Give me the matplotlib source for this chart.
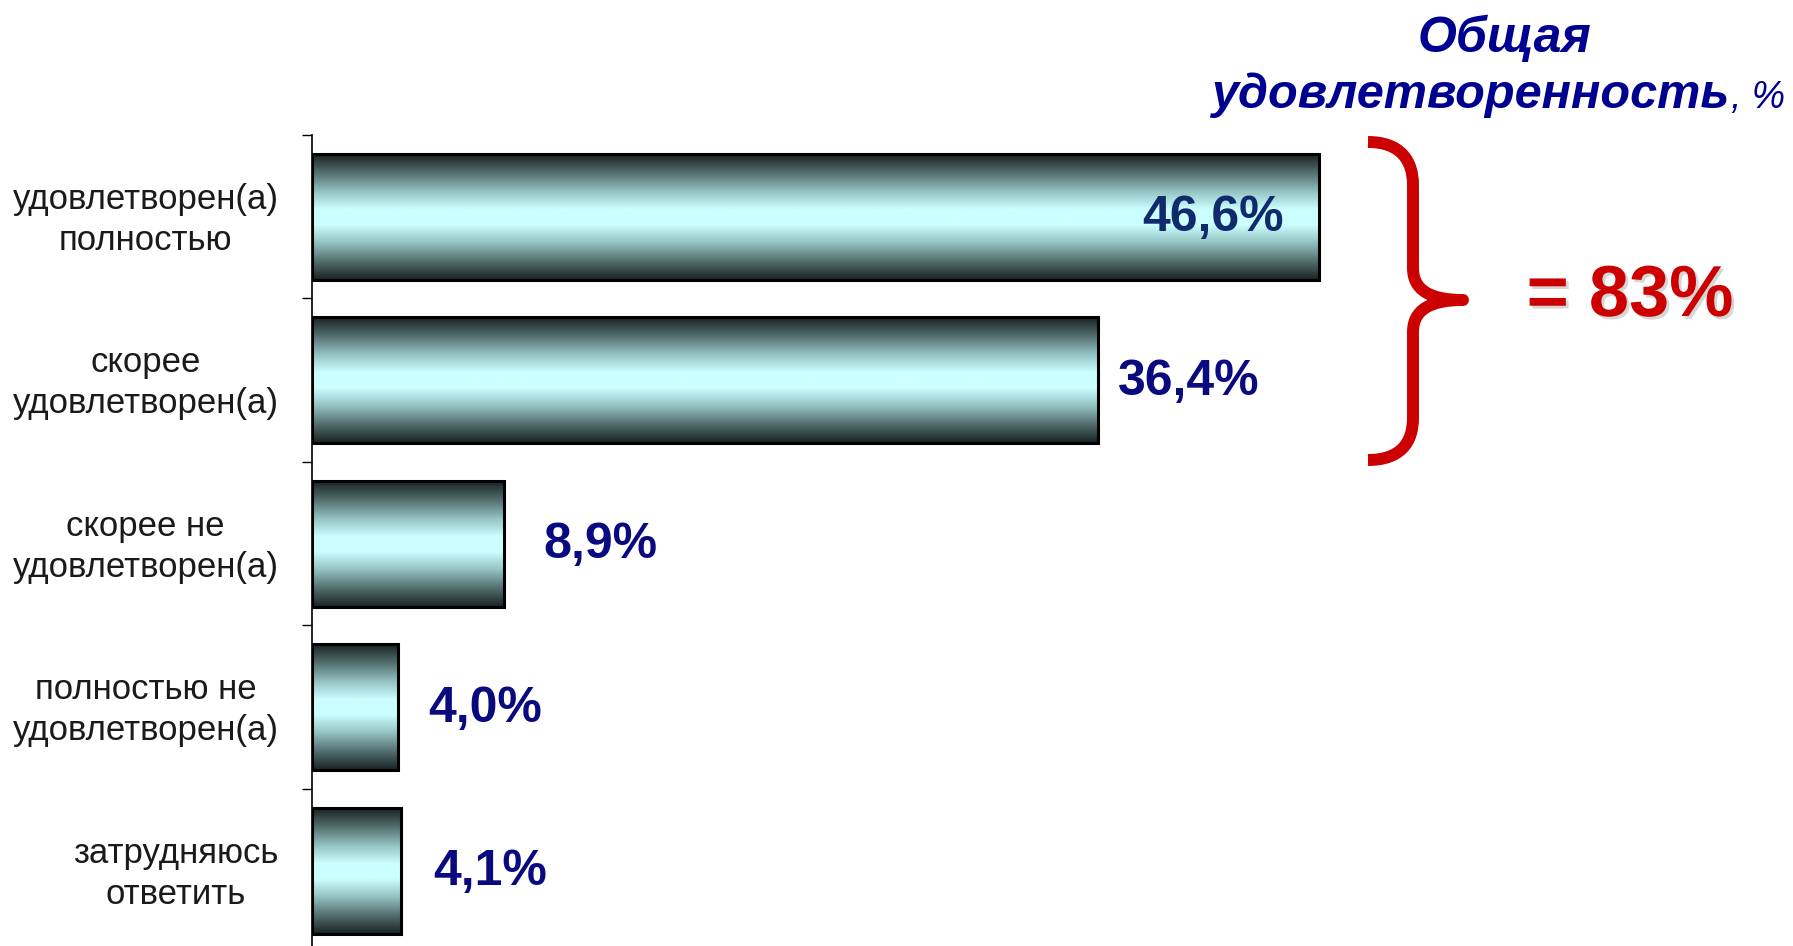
import numpy as np
import matplotlib.pyplot as plt
from matplotlib.colors import LinearSegmentedColormap
from matplotlib.path import Path
from matplotlib.patches import PathPatch
from matplotlib.transforms import ScaledTranslation
import matplotlib.patheffects as pe

plt.rcParams['font.family'] = ['Liberation Sans', 'DejaVu Sans']

categories = ['удовлетворен(а)\nполностью', 'скорее\nудовлетворен(а)',
              'скорее не\nудовлетворен(а)', 'полностью не\nудовлетворен(а)',
              'затрудняюсь\nответить']
values = [46.6, 36.4, 8.9, 4.0, 4.1]
value_labels = ['46,6%', '36,4%', '8,9%', '4,0%', '4,1%']
total_label = '= 83%'

W, H = 1793, 946
fig = plt.figure(figsize=(W / 100, H / 100), dpi=100)


def fx(px):
    return px / W


def fy(py):
    return 1 - py / H


# axes: spine at x=312px, top at y=135px, 163.5px per category
ax = fig.add_axes([fx(312), fy(952.5), fx(1608 - 312), (952.5 - 135) / H])

y = np.arange(len(values))
bars = ax.barh(y, values, height=0.77, facecolor='none', edgecolor='black',
               linewidth=2.2, zorder=3)

# metallic cyan gradient inside each bar
cmap = LinearSegmentedColormap.from_list('cyl', [
    (0.0, '#1a2222'), (0.14, '#4f6a6a'), (0.3, '#97c4c4'),
    (0.44, '#ccffff'), (0.56, '#ccffff'), (0.7, '#97c4c4'),
    (0.86, '#4f6a6a'), (1.0, '#1a2222')])
grad = np.linspace(0, 1, 256).reshape(-1, 1)
for b in bars:
    x0, y0, w, h = b.get_x(), b.get_y(), b.get_width(), b.get_height()
    ax.imshow(grad, cmap=cmap, aspect='auto', interpolation='bicubic',
              extent=[x0, x0 + w, y0 + h, y0], zorder=2)

ax.set_xlim(0, 60)
ax.set_ylim(len(values) - 0.5, -0.5)

# boundary ticks and centered labels
ax.set_yticks(np.arange(-0.5, len(values) - 0.5, 1.0))
ax.set_yticklabels([])
ax.tick_params(axis='y', which='major', direction='out', length=7.2,
               width=1.0, color='black')
ax.set_yticks(y, minor=True)
ax.set_yticklabels(categories, minor=True, fontsize=25, color='#1a1a1a',
                   multialignment='center', linespacing=1.3)
ax.tick_params(axis='y', which='minor', length=0, pad=24)
up = ScaledTranslation(0, 0.045, fig.dpi_scale_trans)
for lbl in ax.get_yticklabels(minor=True):
    lbl.set_transform(lbl.get_transform() + up)
ax.set_xticks([])
for s in ['top', 'right', 'bottom']:
    ax.spines[s].set_visible(False)
ax.spines['left'].set_linewidth(1.2)

# value labels
gaps_px = [-35, 20, 39, 30, 33]
for i, (v, lab) in enumerate(zip(values, value_labels)):
    inside = gaps_px[i] < 0
    ax.annotate(lab, xy=(v, i), xytext=(gaps_px[i] / 1.389, -1),
                textcoords='offset points', ha='right' if inside else 'left',
                va='center', fontsize=36, fontweight='bold',
                color='#102a6e' if inside else '#0a0a80', zorder=5)

# title
navy = '#000090'
fig.text(fx(1504), fy(52), 'Общая', ha='center', va='baseline',
         fontsize=36, fontweight='bold', fontstyle='italic', color=navy)
fig.text(fx(1729), fy(108), 'удовлетворенность', ha='right', va='baseline',
         fontsize=35, fontweight='bold', fontstyle='italic', color=navy)
fig.text(fx(1731), fy(108), ', %', ha='left', va='baseline',
         fontsize=27, fontstyle='italic', color=navy)

# red brace over the first two bars
pts = [(1368, 142), (1400, 142), (1413, 160), (1413, 185),
       (1413, 268),
       (1413, 290), (1430, 300), (1463, 300),
       (1430, 300), (1413, 310), (1413, 332),
       (1413, 418),
       (1413, 443), (1400, 460), (1368, 460)]
codes = [Path.MOVETO] + [Path.CURVE4] * 3 + [Path.LINETO] + [Path.CURVE4] * 6 \
    + [Path.LINETO] + [Path.CURVE4] * 3
path = Path([(fx(px), fy(py)) for px, py in pts], codes)
fig.add_artist(PathPatch(path, transform=fig.transFigure, facecolor='none',
                         edgecolor='#cc0000', linewidth=8.6,
                         capstyle='butt', joinstyle='round'))

fig.text(fx(1630), fy(297), total_label, ha='center', va='center',
         fontsize=52, fontweight='bold', color='#cc0000',
         path_effects=[pe.withSimplePatchShadow(offset=(2, -2),
                                                 shadow_rgbFace='#999999',
                                                 alpha=0.4)])

fig.savefig('out.png', dpi=100, facecolor='white')
